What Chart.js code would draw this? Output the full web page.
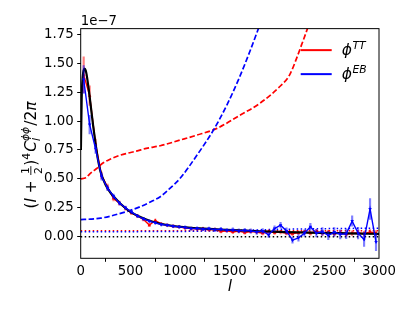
<!DOCTYPE html>
<html><head><meta charset="utf-8">
<script src="https://cdn.jsdelivr.net/npm/chart.js@4.4.1/dist/chart.umd.min.js"></script>
<style>html,body{margin:0;padding:0;background:#fff;}canvas{display:block;}</style>
</head><body>
<canvas id="c" width="413" height="310"></canvas>
<script>
// ---- data (units of 1e-7) ----
const binL = [30,90,150,210,270,330,390,450,510,570,630,690,750,810,870,930,990,1050,1110,1170,1230,1290,1350,1410,1470,1530,1590,1650,1710,1770,1830,1890,1950,2010,2070,2130,2190,2250,2310,2370,2430,2490,2550,2610,2670,2730,2790,2850,2910,2970];
const ttVals = [1.40,1.22,0.80,0.53,0.43,0.33,0.29,0.245,0.205,0.18,0.15,0.10,0.14,0.11,0.10,0.09,0.085,0.075,0.07,0.068,0.07,0.06,0.063,0.045,0.05,0.04,0.048,0.035,0.045,0.04,0.03,0.045,0.035,0.04,0.03,0.025,0.035,0.04,0.03,0.045,0.03,0.04,0.025,0.035,0.02,0.03,0.035,0.025,0.04,0.03];
const ttErr = [0.155,0.085,0.045,0.03,0.025,0.02,0.018,0.016,0.015,0.014,0.014,0.013,0.013,0.012,0.012,0.012,0.012,0.012,0.012,0.012,0.012,0.012,0.012,0.012,0.012,0.013,0.013,0.013,0.013,0.014,0.014,0.014,0.015,0.015,0.015,0.016,0.016,0.016,0.017,0.017,0.018,0.018,0.019,0.019,0.02,0.02,0.021,0.021,0.022,0.022];
const ebVals = [1.36,0.97,0.76,0.52,0.42,0.35,0.29,0.25,0.215,0.18,0.155,0.135,0.12,0.105,0.10,0.09,0.085,0.08,0.07,0.072,0.065,0.07,0.06,0.065,0.055,0.06,0.05,0.055,0.05,0.04,0.05,0.015,0.07,0.10,0.05,-0.03,-0.01,0.03,0.085,0.03,0.045,0.01,0.04,0.02,0.025,0.135,0.03,-0.025,0.24,-0.045];
const ebErr = [0.12,0.08,0.04,0.03,0.022,0.018,0.016,0.015,0.014,0.013,0.013,0.012,0.012,0.012,0.012,0.012,0.012,0.013,0.013,0.013,0.014,0.014,0.015,0.015,0.016,0.016,0.017,0.018,0.019,0.02,0.021,0.022,0.023,0.025,0.026,0.027,0.028,0.03,0.031,0.033,0.034,0.036,0.038,0.04,0.042,0.045,0.05,0.06,0.09,0.075];
const theoryL = [2,10,20,30,40,50,60,80,100,125,150,175,200,250,300,350,400,500,600,700,800,900,1000,1200,1400,1600,1800,2000,2200,2400,2600,2800,3000];
const theoryV = [0.75,1.2,1.38,1.44,1.455,1.44,1.40,1.28,1.14,0.96,0.80,0.66,0.56,0.45,0.38,0.33,0.285,0.215,0.17,0.135,0.112,0.097,0.086,0.072,0.062,0.054,0.047,0.042,0.037,0.033,0.030,0.027,0.024];
const noiseTTL = [0,50,100,160,220,300,380,460,560,660,800,1000,1170,1370,1600,1800,2000,2100,2170,2220,2280,2350];
const noiseTTV = [0.50,0.51,0.55,0.59,0.635,0.672,0.70,0.72,0.74,0.764,0.787,0.836,0.879,0.937,1.05,1.153,1.297,1.398,1.54,1.657,1.80,2.0];
const noiseEBL = [0,100,200,300,400,500,600,700,800,900,1000,1170,1335,1470,1585,1700,1800,1850];
const noiseEBV = [0.148,0.152,0.16,0.178,0.202,0.228,0.26,0.30,0.346,0.42,0.505,0.706,0.922,1.139,1.355,1.6,1.83,1.95];
const dotTTL = [0,3000];
const dotTTV = [0.052,0.052];
const dotEBL = [0,1000,1500,2000,2500,3000];
const dotEBV = [0.042,0.045,0.052,0.064,0.07,0.074];
const zeroL = [0,3000];
const zeroV = [0,0];
const xTicks = [0,500,1000,1500,2000,2500,3000];
const yTicks = [0,0.25,0.5,0.75,1.0,1.25,1.5,1.75];
const legendLabels = [['ϕ','TT'],['ϕ','EB']];
const legendColors = ['#ff0000','#0000ff'];
const offsetText = '1e\u22127';
const xLabel = 'l';

const FONT = 'DejaVu Sans';
const RED = '#ff0000', BLUE = '#0000ff';
const xy = (xs, ys) => xs.map((x, i) => ({x: x, y: ys[i]}));
const bars = (xs, ys, es) => xs.map((x, i) => ({x: x, y: [ys[i] - es[i], ys[i] + es[i]]}));

const framePlugin = {
  id: 'frame',
  afterDatasetsDraw(chart) {
    const {ctx, chartArea: a} = chart;
    ctx.save();
    ctx.strokeStyle = '#000';
    ctx.lineWidth = 1;
    ctx.strokeRect(a.left, a.top, a.right - a.left, a.bottom - a.top);
    ctx.restore();
  }
};

const legendPlugin = {
  id: 'customLegend',
  afterDraw(chart) {
    const {ctx, chartArea: a} = chart;
    ctx.save();
    legendLabels.forEach((lab, i) => {
      const y = a.top + 21.5 + i * 24;
      const x0 = a.right - 78.3;
      ctx.strokeStyle = legendColors[i];
      ctx.lineWidth = 2;
      ctx.beginPath(); ctx.moveTo(x0, y); ctx.lineTo(x0 + 31, y); ctx.stroke();
      ctx.fillStyle = '#000';
      ctx.textBaseline = 'alphabetic';
      ctx.font = 'italic 15.5px "' + FONT + '"';
      const tx = x0 + 41;
      ctx.fillText(lab[0], tx, y + 5);
      const w = ctx.measureText(lab[0]).width;
      ctx.font = 'italic 10.8px "' + FONT + '"';
      ctx.fillText(lab[1], tx + w + 0.5, y - 1.5);
    });
    ctx.restore();
  }
};

const yLabelPlugin = {
  id: 'yLabel',
  afterDraw(chart) {
    const {ctx} = chart;
    const F = 15.4, S = 10.8;
    const base = '"' + FONT + '"';
    const parts = [
      {t: '(', f: F + 'px ' + base},
      {t: 'l', f: 'italic ' + F + 'px ' + base},
      {t: ' + ', f: F + 'px ' + base},
      {frac: ['1', '2']},
      {t: ')', f: F + 'px ' + base},
      {t: '4', f: S + 'px ' + base, dy: -6.5},
      {t: 'C', f: 'italic ' + F + 'px ' + base, pre: 1},
      {stack: ['ϕϕ', 'l']},
      {t: '/2', f: F + 'px ' + base},
      {t: 'π', f: 'italic ' + F + 'px ' + base}
    ];
    ctx.save();
    ctx.fillStyle = '#000';
    ctx.textBaseline = 'alphabetic';
    const widths = parts.map(p => {
      if (p.frac) { ctx.font = S + 'px ' + base; return Math.max(ctx.measureText(p.frac[0]).width, ctx.measureText(p.frac[1]).width) + 3; }
      if (p.stack) { ctx.font = 'italic ' + S + 'px ' + base; return Math.max(ctx.measureText(p.stack[0]).width, ctx.measureText(p.stack[1]).width) + 1; }
      ctx.font = p.f; return ctx.measureText(p.t).width + (p.pre || 0);
    });
    const total = widths.reduce((s, w) => s + w, 0);
    const cx = 36, cy = 155;
    ctx.translate(cx, cy);
    ctx.rotate(-Math.PI / 2);
    let x = -total / 2;
    parts.forEach((p, i) => {
      if (p.frac) {
        ctx.font = S + 'px ' + base;
        ctx.textAlign = 'center';
        const mx = x + widths[i] / 2;
        ctx.fillText(p.frac[0], mx, -7.5);
        ctx.fillText(p.frac[1], mx, 5.5);
        ctx.fillRect(x + 0.5, -5.6, widths[i] - 1, 0.9);
        ctx.textAlign = 'left';
      } else if (p.stack) {
        ctx.font = 'italic ' + S + 'px ' + base;
        ctx.fillText(p.stack[0], x, -7);
        ctx.fillText(p.stack[1], x, 3.5);
      } else {
        ctx.font = p.f;
        ctx.fillText(p.t, x + (p.pre || 0), p.dy || 0);
      }
      x += widths[i];
    });
    ctx.restore();
  }
};

const commonLine = {type: 'line', pointRadius: 0, fill: false, tension: 0};

new Chart(document.getElementById('c'), {
  type: 'line',
  data: {
    datasets: [
      Object.assign({}, commonLine, {label: 'EB', data: xy(binL, ebVals), borderColor: BLUE, backgroundColor: BLUE, borderWidth: 1.4, pointRadius: 2, pointStyle: 'triangle', pointRotation: 180, pointBorderWidth: 0, order: 1}),
      {type: 'bar', label: 'EB err', data: bars(binL, ebVals, ebErr), backgroundColor: 'rgba(0,0,255,0.5)', borderWidth: 0, barThickness: 1.5, grouped: false, order: 2},
      Object.assign({}, commonLine, {label: 'theory', data: xy(theoryL, theoryV), borderColor: '#000', borderWidth: 2.2, cubicInterpolationMode: 'monotone', order: 3}),
      Object.assign({}, commonLine, {label: 'TT', data: xy(binL, ttVals), borderColor: RED, backgroundColor: RED, borderWidth: 1.4, pointRadius: 2, pointStyle: 'triangle', pointBorderWidth: 0, order: 4}),
      {type: 'bar', label: 'TT err', data: bars(binL, ttVals, ttErr), backgroundColor: 'rgba(255,0,0,0.5)', borderWidth: 0, barThickness: 1.5, grouped: false, order: 5},
      Object.assign({}, commonLine, {label: 'N0 EB', data: xy(noiseEBL, noiseEBV), borderColor: BLUE, borderWidth: 1.7, borderDash: [5.5, 2.4], cubicInterpolationMode: 'monotone', order: 6}),
      Object.assign({}, commonLine, {label: 'N0 TT', data: xy(noiseTTL, noiseTTV), borderColor: RED, borderWidth: 1.7, borderDash: [5.5, 2.4], cubicInterpolationMode: 'monotone', order: 7}),
      Object.assign({}, commonLine, {label: 'dot EB', data: xy(dotEBL, dotEBV), borderColor: BLUE, borderWidth: 1.5, borderDash: [1.5, 2.5], order: 8}),
      Object.assign({}, commonLine, {label: 'dot TT', data: xy(dotTTL, dotTTV), borderColor: RED, borderWidth: 1.5, borderDash: [1.5, 2.5], order: 9}),
      Object.assign({}, commonLine, {label: 'zero', data: xy(zeroL, zeroV), borderColor: '#000', borderWidth: 1.5, borderDash: [1.5, 2.5], order: 10})
    ]
  },
  options: {
    responsive: false,
    animation: false,
    devicePixelRatio: 1,
    events: [],
    layout: {padding: {left: 0, right: 34, top: 0, bottom: 0}},
    plugins: {
      legend: {display: false},
      tooltip: {enabled: false},
      title: {display: true, text: offsetText, align: 'start', fullSize: false, color: '#000',
        font: {family: FONT, size: 13.3, weight: 'normal', lineHeight: 1.1}, padding: {top: 14, bottom: 0}}
    },
    scales: {
      x: {
        type: 'linear', min: 0, max: 3000, offset: false,
        afterBuildTicks: s => { s.ticks = xTicks.map(v => ({value: v})); },
        afterFit: s => { s.height = 51.7; },
        grid: {display: true, drawOnChartArea: false, drawTicks: true, tickLength: 3.5, color: '#000', lineWidth: 1},
        border: {display: false},
        ticks: {color: '#000', font: {family: FONT, size: 13.3}, padding: 2, maxRotation: 0, callback: v => String(v)},
        title: {display: true, text: xLabel, color: '#000', font: {family: FONT, size: 15.4, style: 'italic'}, padding: {top: 0, bottom: 13.3}}
      },
      y: {
        type: 'linear', min: -0.187, max: 1.80,
        afterBuildTicks: s => { s.ticks = yTicks.map(v => ({value: v})); },
        afterFit: s => { s.width = 80.7; },
        grid: {display: true, drawOnChartArea: false, drawTicks: true, tickLength: 3.5, color: '#000', lineWidth: 1},
        border: {display: false},
        ticks: {color: '#000', font: {family: FONT, size: 13.3}, padding: 3.5, callback: v => v.toFixed(2)}
      }
    }
  },
  plugins: [framePlugin, legendPlugin, yLabelPlugin]
});
</script>
</body></html>
